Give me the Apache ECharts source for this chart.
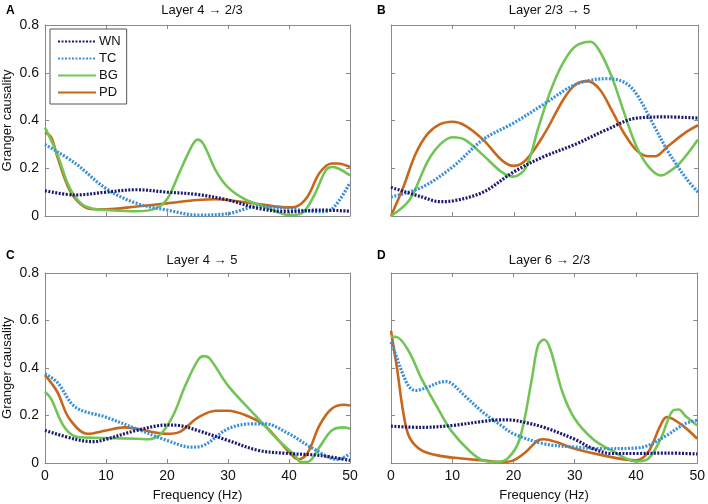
<!DOCTYPE html>
<html><head><meta charset="utf-8">
<script src="https://cdn.jsdelivr.net/npm/echarts@6/dist/echarts.min.js"></script>
<style>html,body{margin:0;padding:0;background:#fff}#c{width:708px;height:504px}</style>
</head><body><div id="c"></div>
<script>
const seriesNames = ['WN','TC','BG','PD'];
const panelTitles = ['Layer 4 \u2192 2/3','Layer 2/3 \u2192 5','Layer 4 \u2192 5','Layer 6 \u2192 2/3'];
const panelLetters = ['A','B','C','D'];
const xTicks = [0,10,20,30,40,50];
const yTicks = [0,0.2,0.4,0.6,0.8];

// Panel A: Layer 4 -> 2/3  ([frequency Hz, Granger causality])
const A_WN = [[0,0.106],[5,0.088],[10,0.10],[15,0.11],[20,0.10],[25,0.09],[30,0.067],[35,0.032],[40,0.018],[45,0.025],[50,0.02]];
const A_TC = [[0,0.30],[5,0.22],[10,0.115],[15,0.053],[20,0.025],[25,0.004],[30,0.01],[35,0.04],[40,0.03],[45,0.018],[47,0.028],[50,0.14]];
const A_BG = [[0,0.37],[2,0.26],[4,0.12],[6,0.05],[8,0.03],[10,0.025],[15,0.02],[18,0.03],[20,0.07],[22,0.18],[24,0.29],[25,0.32],[26,0.30],[28,0.19],[30,0.12],[33,0.067],[36,0.04],[40,0.004],[42,0.01],[44,0.08],[46,0.19],[47,0.205],[48,0.20],[50,0.17]];
const A_PD = [[0,0.35],[1,0.33],[2,0.25],[4,0.11],[6,0.046],[8,0.028],[10,0.028],[15,0.04],[20,0.053],[25,0.067],[28,0.07],[30,0.067],[35,0.05],[40,0.036],[41,0.038],[43,0.08],[45,0.18],[47,0.22],[48,0.22],[50,0.205]];

// Panel B: Layer 2/3 -> 5
const B_WN = [[0,0.12],[5,0.08],[8,0.06],[10,0.063],[15,0.10],[20,0.185],[25,0.25],[30,0.30],[35,0.36],[40,0.41],[45,0.415],[50,0.41]];
const B_TC = [[0,0.08],[5,0.12],[10,0.205],[15,0.32],[20,0.39],[25,0.47],[30,0.55],[35,0.575],[38,0.56],[40,0.51],[43,0.37],[45,0.275],[48,0.16],[50,0.10]];
const B_BG = [[0,0.0],[3,0.067],[6,0.23],[8,0.30],[10,0.33],[12,0.32],[15,0.255],[18,0.185],[20,0.165],[22,0.205],[24,0.37],[26,0.525],[28,0.64],[30,0.71],[32.5,0.73],[34,0.69],[36,0.58],[38,0.43],[40,0.29],[42,0.205],[44,0.17],[45,0.18],[47,0.22],[50,0.32]];
const B_PD = [[0,0.0],[2,0.12],[4,0.26],[6,0.345],[8,0.385],[10,0.395],[12,0.38],[15,0.32],[18,0.235],[20,0.21],[22,0.235],[25,0.345],[28,0.485],[30,0.55],[32,0.565],[34,0.53],[36,0.44],[38,0.345],[40,0.275],[42,0.25],[43,0.25],[45,0.29],[48,0.35],[50,0.38]];

// Panel C: Layer 4 -> 5
const C_WN = [[0,0.137],[5,0.10],[8,0.09],[10,0.10],[15,0.137],[20,0.16],[22,0.158],[25,0.137],[30,0.095],[35,0.053],[40,0.04],[45,0.032],[50,0.011]];
const C_TC = [[0,0.375],[2,0.34],[5,0.235],[10,0.193],[15,0.144],[20,0.095],[24,0.067],[26,0.074],[30,0.144],[34,0.165],[36,0.165],[40,0.123],[44,0.06],[48,0.015],[50,0.04]];
const C_BG = [[0,0.30],[1,0.27],[3,0.158],[5,0.112],[8,0.106],[10,0.105],[15,0.102],[17,0.10],[19,0.123],[21,0.20],[23,0.326],[25,0.43],[26,0.45],[27,0.44],[30,0.326],[35,0.186],[38,0.102],[41,0.032],[42,0.004],[43,0.004],[45,0.067],[47,0.137],[49,0.15],[50,0.144]];
const C_PD = [[0,0.37],[2,0.30],[4,0.186],[7,0.123],[10,0.137],[13,0.15],[15,0.144],[20,0.123],[22,0.13],[25,0.19],[28,0.22],[30,0.22],[33,0.20],[36,0.158],[40,0.046],[41.5,0.015],[43,0.04],[45,0.158],[47,0.228],[49,0.245],[50,0.242]];

// Panel D: Layer 6 -> 2/3
const D_WN = [[0,0.155],[5,0.15],[10,0.158],[15,0.175],[18,0.182],[20,0.18],[22,0.17],[25,0.15],[30,0.10],[33,0.06],[36,0.04],[40,0.04],[45,0.042],[50,0.038]];
const D_TC = [[0,0.51],[1,0.44],[2,0.37],[3,0.32],[4,0.305],[6,0.32],[8,0.34],[9,0.343],[10,0.333],[12,0.284],[15,0.214],[18,0.158],[20,0.123],[25,0.081],[30,0.067],[35,0.06],[40,0.063],[42,0.074],[45,0.116],[48,0.165],[50,0.18]];
const D_BG = [[0,0.532],[1,0.53],[3,0.466],[5,0.354],[8,0.214],[10,0.13],[13,0.046],[15,0.011],[17,0.004],[19,0.018],[21,0.10],[23,0.354],[24,0.494],[25,0.52],[26,0.48],[28,0.298],[30,0.186],[33,0.10],[36,0.053],[40,0.007],[42,0.018],[44,0.10],[46,0.22],[47,0.225],[48,0.20],[50,0.158]];
const D_PD = [[0,0.557],[1,0.396],[2,0.214],[3,0.109],[5,0.053],[8,0.03],[12,0.018],[15,0.011],[18,0.004],[20,0.011],[22,0.046],[24,0.095],[25,0.10],[27,0.088],[30,0.06],[35,0.03],[40,0.011],[42,0.046],[44,0.158],[45,0.193],[46,0.186],[48,0.15],[50,0.102]];

const panelData = [[A_WN,A_TC,A_BG,A_PD],[B_WN,B_TC,B_BG,B_PD],[C_WN,C_TC,C_BG,C_PD],[D_WN,D_TC,D_BG,D_PD]];

const colors = {WN:'#1b1a72', TC:'#3a8fd9', BG:'#70c556', PD:'#c7671c'};
const lineStyles = {
  WN:{width:3.2, type:[2,1.5]},
  TC:{width:3.2, type:[2,1.5]},
  BG:{width:2.6, type:'solid'},
  PD:{width:2.6, type:'solid'}
};
const FONT = 'Liberation Sans, Arial, Helvetica, sans-serif';
const grids = [
  {left:44, top:25, width:306, height:191},
  {left:391, top:25, width:307, height:191},
  {left:44, top:273, width:306, height:190},
  {left:391, top:273, width:307, height:190}
];
const boxColor = '#8a8a8a';
const option = {animation:false, backgroundColor:'#fff', grid:[], xAxis:[], yAxis:[], series:[], title:[], legend:[]};
grids.forEach((g,i)=>{
  option.grid.push(Object.assign({show:false, containLabel:false}, g));
  const showX = i>=2, showY = (i%2===0);
  const common = () => ({min:0, axisLine:{show:true, onZero:false, lineStyle:{color:boxColor, width:1}},
    axisTick:{show:true, inside:true, length:4, lineStyle:{color:boxColor}}, splitLine:{show:false}});
  option.xAxis.push(Object.assign(common(), {type:'value', gridIndex:i, position:'bottom', max:50, interval:10,
    axisLabel:{show:showX, color:'#111', fontFamily:FONT, fontSize:14, margin:6},
    name: showX ? 'Frequency (Hz)' : '', nameLocation:'middle', nameGap:26,
    nameTextStyle:{color:'#111', fontFamily:FONT, fontSize:13}}));
  option.xAxis.push(Object.assign(common(), {type:'value', gridIndex:i, position:'top', max:50, interval:10, axisLabel:{show:false}}));
  option.yAxis.push(Object.assign(common(), {type:'value', gridIndex:i, position:'left', max:0.8, interval:0.2,
    axisLabel:{show:showY, color:'#111', fontFamily:FONT, fontSize:14, margin:6, formatter:v=> v===0?'0':v.toFixed(1)},
    name: showY ? 'Granger causality' : '', nameLocation:'middle', nameGap:31, nameRotate:90,
    nameTextStyle:{color:'#111', fontFamily:FONT, fontSize:13}}));
  option.yAxis.push(Object.assign(common(), {type:'value', gridIndex:i, position:'right', max:0.8, interval:0.2, axisLabel:{show:false}}));
  seriesNames.forEach((n,k)=>{
    option.series.push({type:'line', name:n, xAxisIndex:2*i, yAxisIndex:2*i, data:panelData[i][k],
      smooth:0.35, symbol:'none', clip:true, color:colors[n],
      lineStyle:Object.assign({color:colors[n], cap:'butt'}, lineStyles[n]), z: 10-k});
  });
  option.title.push({text:panelTitles[i], left:g.left+g.width/2, top: i<2 ? -1 : 249, textAlign:'center',
    textStyle:{fontFamily:FONT, fontSize:13, fontWeight:'normal', color:'#111'}});
  option.title.push({text:panelLetters[i], left: i%2===0 ? 1 : 372, top: i<2 ? 0 : 245,
    textStyle:{fontFamily:FONT, fontSize:12, fontWeight:'bold', color:'#000'}});
});
option.legend.push({data:seriesNames, orient:'vertical', left:50, top:29, padding:[5,6,4,7],
  itemWidth:38, itemHeight:10, itemGap:2, borderColor:'#555', borderWidth:1, backgroundColor:'#fff',
  itemStyle:{opacity:0},
  textStyle:{fontFamily:FONT, fontSize:13, lineHeight:15, color:'#111', padding:[0,0,0,-2]}, selectedMode:false});
const chart = echarts.init(document.getElementById('c'), null, {renderer:'canvas'});
chart.setOption(option);
</script></body></html>
